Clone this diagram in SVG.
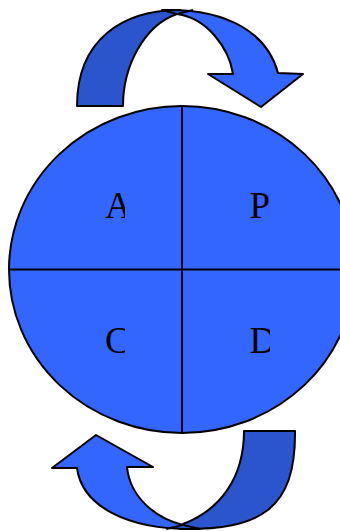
<svg xmlns="http://www.w3.org/2000/svg" width="340" height="531" viewBox="0 0 340 531">
<style>
.ln{stroke:#000;stroke-width:2;stroke-linejoin:round}
.lt{fill:#3366FF}
.dk{fill:#2B55CC}
.cr{fill:none;stroke:#000;stroke-width:2}
.lbl{font-family:"Liberation Serif","Times New Roman",serif;font-size:37px;fill:#000}
</style>
<defs>
<clipPath id="cl"><rect x="95" y="150" width="30" height="250"/></clipPath>
<clipPath id="cr"><rect x="240" y="150" width="30" height="250"/></clipPath>
</defs>
<g id="cycle">
<ellipse class="ln lt" cx="182" cy="269.5" rx="173" ry="163.5"/>
<line class="ln" x1="182" y1="106" x2="182" y2="433"/>
<line class="ln" x1="9" y1="269.5" x2="340" y2="269.5"/>
</g>
<g id="labels">
<text class="lbl" x="105" y="218" clip-path="url(#cl)">A</text>
<text class="lbl" x="249.5" y="218" clip-path="url(#cr)">P</text>
<text class="lbl" x="105" y="353" clip-path="url(#cl)">C</text>
<text class="lbl" x="249.5" y="353" clip-path="url(#cr)">D</text>
</g>
<g id="arrows">
<g id="top-arrow">
<path class="ln dk" d="M77,106 L123,106 C123,65 145,25 177,14 L180,10 C122,10 77,40 77,106 Z"/>
<path class="ln lt" d="M162,10 C230,8 268,35 278,73 L303,74 L261,107 L208,74 L233,74 C229,48 207,18 177,14 Z"/>
<path class="cr" d="M177,14 L193,10"/>
</g>
<g id="bottom-arrow">
<path class="ln dk" d="M244,431 L295,431 C296,510 260,530 180,529 L183,524 C220,510 244,478 244,431 Z"/>
<path class="ln lt" d="M200,529 C125,531 82,505 77,468 L52,468 L96,435 L153,467 L127,467 C130,497 155,518 183,525 Z"/>
<path class="cr" d="M183,525 L166,529"/>
</g>
</g>
</svg>
